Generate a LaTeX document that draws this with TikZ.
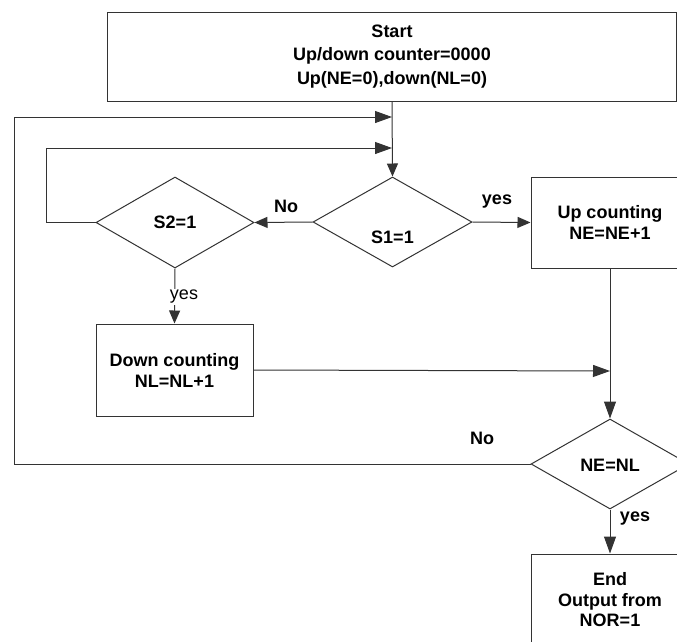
\documentclass[tikz,border=0pt]{standalone}
\usepackage{fontspec}
\setmainfont{Liberation Sans}
\usetikzlibrary{shapes.geometric,arrows.meta}
\begin{document}
\begin{tikzpicture}[x=1pt,y=-1pt,
  ln/.style={draw=black!80,line width=1pt},
  arr/.style={ln,-{Triangle[length=17pt,width=12pt]}},
  sarr/.style={ln,-{Triangle[length=13pt,width=11pt]}},
  box/.style={ln,rectangle,inner sep=0pt,align=center,font=\fontsize{18}{21}\selectfont\bfseries},
  dia/.style={ln,diamond,inner sep=0pt},
  txt/.style={inner sep=0pt,align=center,font=\fontsize{18}{21}\selectfont\bfseries},
  lbl/.style={inner sep=1pt,font=\fontsize{18}{21}\selectfont\bfseries}]
\path[use as bounding box,clip] (0,0) rectangle (677,641);
\fill[white] (0,0) rectangle (677,641);
% boxes
\node[box,minimum width=569pt,minimum height=89pt,font=\fontsize{18}{23.5}\selectfont\bfseries] (start) at (392,56.5) {Start\\Up/down counter=0000\\Up(NE=0),down(NL=0)};
\node[box,minimum width=158pt,minimum height=91pt] (up) at (610,222.5) {Up counting\\NE=NE+1};
\node[box,minimum width=157pt,minimum height=92pt] (down) at (174.5,370) {Down counting\\NL=NL+1};
\node[box,minimum width=158pt,minimum height=92pt,font=\fontsize{18}{20.5}\selectfont\bfseries] (end) at (610,600) {End\\Output from\\NOR=1};
% diamonds
\node[dia,minimum width=159pt,minimum height=90pt] (s1) at (392.5,222) {};
\node[txt] (s1t) at (392.5,237) {S1=1};
\node[dia,minimum width=158pt,minimum height=91pt] (s2) at (175,222.5) {};
\node[txt] (s2t) at (175,222.5) {S2=1};
\node[dia,minimum width=158pt,minimum height=90pt] (ne) at (610,464) {};
\node[txt] (net) at (610,465) {NE=NL};
% junction points
\coordinate (m1) at (392,117);
\coordinate (m2) at (392,148);
\coordinate (m3) at (610,371);
\coordinate (c1) at (14,464);
\coordinate (c2) at (46,222.5);
% connectors
\draw[sarr] (start.south) -- (s1.north);
\draw[arr] (ne.west) -- (c1) |- (m1);
\draw[arr] (s2.west) -- (c2) |- (m2);
\draw[sarr] (s1.west) -- (s2.east);
\draw[sarr] (s1.east) -- (up.west);
\draw[arr] (up.south) -- (ne.north);
\draw[arr] (down.east) -- (m3);
\draw[sarr] (s2.south) -- (down.north);
\draw[arr] (ne.south) -- (end.north);
% labels
\node[lbl] (no1) at (286,206) {No};
\node[lbl] (yes1) at (497,202) {yes};
\node[inner sep=1pt,fill=white,font=\fontsize{18}{21}\selectfont] (yes2) at (184,297) {yes};
\node[lbl] (no2) at (482,438) {No};
\node[lbl] (yes3) at (635,519) {yes};
\end{tikzpicture}
\end{document}
